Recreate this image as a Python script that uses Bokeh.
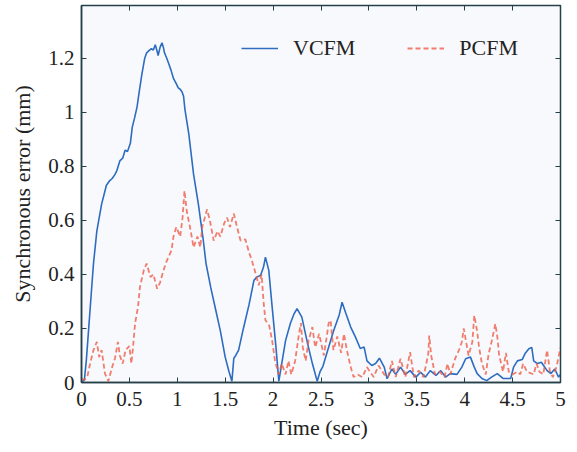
from bokeh.plotting import figure
from bokeh.models import Range1d, FixedTicker, LinearAxis, Legend, LegendItem, CustomJSTickFormatter
from bokeh.embed import file_html
from bokeh.resources import INLINE

vcfm_t = [0.0, 0.03, 0.05, 0.073, 0.1, 0.125, 0.16, 0.21, 0.26, 0.29, 0.32, 0.35, 0.37, 0.40, 0.43, 0.456,
          0.48, 0.51, 0.53, 0.555, 0.58, 0.60, 0.63, 0.66, 0.68, 0.71, 0.73, 0.75, 0.77, 0.79, 0.80, 0.82,
          0.84, 0.855, 0.866, 0.89, 0.91, 0.935, 0.96, 0.99, 1.01, 1.03, 1.05, 1.065, 1.08, 1.12, 1.17, 1.22,
          1.27, 1.30, 1.35, 1.40, 1.45, 1.50, 1.54, 1.57, 1.59, 1.61, 1.64, 1.69, 1.75, 1.80, 1.83, 1.87,
          1.90, 1.92, 1.955, 1.99, 2.03, 2.06, 2.095, 2.13, 2.18, 2.22, 2.25, 2.30, 2.36, 2.41, 2.46, 2.49,
          2.52, 2.56, 2.63, 2.69, 2.72, 2.76, 2.81, 2.86, 2.91, 2.95, 2.98, 3.03, 3.07, 3.11, 3.16, 3.19,
          3.24, 3.28, 3.33, 3.38, 3.43, 3.49, 3.54, 3.59, 3.64, 3.70, 3.75, 3.80, 3.85, 3.92, 3.97, 4.01,
          4.06, 4.10, 4.13, 4.18, 4.23, 4.28, 4.34, 4.40, 4.48, 4.51, 4.55, 4.60, 4.63, 4.67, 4.70, 4.72,
          4.76, 4.80, 4.86, 4.90, 4.94, 4.98, 5.0]
vcfm_v = [0.0, 0.01, 0.08, 0.19, 0.32, 0.44, 0.56, 0.66, 0.73, 0.745, 0.755, 0.77, 0.785, 0.82, 0.83, 0.86,
          0.855, 0.885, 0.945, 0.98, 1.02, 1.07, 1.14, 1.2, 1.22, 1.23, 1.235, 1.23, 1.25, 1.225, 1.21, 1.24,
          1.257, 1.24, 1.22, 1.2, 1.18, 1.155, 1.125, 1.105, 1.09, 1.085, 1.075, 1.06, 1.01, 0.92, 0.77, 0.66,
          0.53, 0.44, 0.35, 0.27, 0.19, 0.094, 0.04, 0.005, 0.09, 0.1, 0.12, 0.2, 0.29, 0.378, 0.39, 0.397,
          0.427, 0.464, 0.415, 0.28, 0.13, 0.005, 0.08, 0.155, 0.218, 0.255, 0.273, 0.242, 0.144, 0.07, 0.005, 0.04,
          0.06, 0.107, 0.19, 0.25, 0.297, 0.255, 0.205, 0.168, 0.126, 0.131, 0.08, 0.063, 0.07, 0.09, 0.057, 0.014,
          0.05, 0.03, 0.057, 0.03, 0.044, 0.02, 0.038, 0.02, 0.044, 0.026, 0.044, 0.02, 0.033, 0.03, 0.057, 0.088,
          0.094, 0.057, 0.033, 0.015, 0.007, 0.02, 0.033, 0.015, 0.015, 0.057, 0.08, 0.085, 0.107, 0.125, 0.13, 0.08,
          0.07, 0.075, 0.044, 0.033, 0.05, 0.02, 0.03]

pcfm_t = [0.0, 0.03, 0.06, 0.09, 0.125, 0.16, 0.185, 0.21, 0.245, 0.28, 0.32, 0.35, 0.38, 0.40, 0.43, 0.46,
          0.50, 0.52, 0.535, 0.56, 0.59, 0.61, 0.65, 0.68, 0.72, 0.75, 0.79, 0.82, 0.856, 0.89, 0.94, 0.96,
          0.99, 1.03, 1.055, 1.075, 1.10, 1.13, 1.17, 1.21, 1.24, 1.26, 1.31, 1.34, 1.38, 1.42, 1.45, 1.49,
          1.52, 1.55, 1.59, 1.62, 1.66, 1.71, 1.75, 1.78, 1.82, 1.85, 1.88, 1.90, 1.92, 1.96, 1.99, 2.02,
          2.06, 2.09, 2.13, 2.16, 2.19, 2.23, 2.27, 2.29, 2.31, 2.34, 2.37, 2.41, 2.44, 2.48, 2.53, 2.56,
          2.58, 2.60, 2.63, 2.67, 2.71, 2.74, 2.77, 2.81, 2.84, 2.88, 2.93, 2.98, 3.01, 3.05, 3.10, 3.16,
          3.20, 3.24, 3.28, 3.33, 3.38, 3.43, 3.47, 3.52, 3.57, 3.62, 3.63, 3.65, 3.69, 3.74, 3.79, 3.82,
          3.85, 3.90, 3.94, 3.97, 3.99, 4.02, 4.04, 4.08, 4.10, 4.13, 4.15, 4.18, 4.22, 4.25, 4.28, 4.32,
          4.34, 4.36, 4.40, 4.43, 4.46, 4.50, 4.55, 4.58, 4.61, 4.65, 4.72, 4.75, 4.78, 4.82, 4.86, 4.89,
          4.92, 4.96, 5.0]
pcfm_v = [0.014, 0.01, 0.02, 0.07, 0.12, 0.15, 0.094, 0.12, 0.033, 0.005, 0.057, 0.09, 0.15, 0.1, 0.07, 0.12,
          0.135, 0.07, 0.12, 0.22, 0.28, 0.353, 0.415, 0.44, 0.39, 0.4, 0.347, 0.37, 0.415, 0.45, 0.49, 0.54,
          0.575, 0.54, 0.61, 0.71, 0.63, 0.58, 0.5, 0.54, 0.5, 0.575, 0.64, 0.6, 0.525, 0.56, 0.54, 0.59,
          0.61, 0.575, 0.625, 0.58, 0.525, 0.53, 0.48, 0.45, 0.4, 0.36, 0.4, 0.3, 0.23, 0.21, 0.155, 0.08,
          0.03, 0.07, 0.03, 0.08, 0.03, 0.08, 0.18, 0.22, 0.13, 0.08, 0.155, 0.205, 0.13, 0.18, 0.1, 0.17,
          0.22, 0.23, 0.12, 0.17, 0.11, 0.18, 0.12, 0.057, 0.02, 0.03, 0.02, 0.057, 0.04, 0.02, 0.063, 0.03,
          0.02, 0.08, 0.02, 0.088, 0.02, 0.112, 0.02, 0.044, 0.02, 0.106, 0.174, 0.1, 0.03, 0.04, 0.02, 0.07,
          0.03, 0.088, 0.12, 0.15, 0.2, 0.14, 0.1, 0.15, 0.248, 0.19, 0.13, 0.07, 0.03, 0.106, 0.15, 0.217,
          0.17, 0.1, 0.04, 0.11, 0.04, 0.03, 0.04, 0.03, 0.07, 0.04, 0.03, 0.07, 0.04, 0.03, 0.12, 0.04,
          0.02, 0.06, 0.13]

x_ticks = [0, 0.5, 1, 1.5, 2, 2.5, 3, 3.5, 4, 4.5, 5]
x_tick_labels = ["0", "0.5", "1", "1.5", "2", "2.5", "3", "3.5", "4", "4.5", "5"]
y_ticks = [0, 0.2, 0.4, 0.6, 0.8, 1.0, 1.2]
y_tick_labels = ["0", "0.2", "0.4", "0.6", "0.8", "1", "1.2"]

FONT = "Liberation Serif"
AX = "#24404a"
TXT = "#222222"

LOOKUP = """
let best = 0;
for (let i = 0; i < tvals.length; i++) {
  if (Math.abs(tvals[i] - tick) < Math.abs(tvals[best] - tick)) { best = i; }
}
return tlabels[best];
"""

p = figure(width=575, height=450, output_backend="svg", toolbar_location=None,
           x_range=Range1d(0, 5), y_range=Range1d(0, 1.395),
           min_border_left=81, min_border_right=15, min_border_top=5, min_border_bottom=68)
p.background_fill_color = "#f8f9fd"
p.border_fill_color = "white"
p.outline_line_color = AX
p.outline_line_width = 1.5
p.grid.visible = False

p.xaxis.ticker = FixedTicker(ticks=x_ticks)
p.xaxis.formatter = CustomJSTickFormatter(args=dict(tvals=x_ticks, tlabels=x_tick_labels), code=LOOKUP)
p.yaxis.ticker = FixedTicker(ticks=y_ticks)
p.yaxis.formatter = CustomJSTickFormatter(args=dict(tvals=y_ticks, tlabels=y_tick_labels), code=LOOKUP)

for ax in list(p.xaxis) + list(p.yaxis):
    ax.axis_line_color = AX
    ax.axis_line_width = 1.5
    ax.major_tick_line_color = AX
    ax.major_tick_in = 5
    ax.major_tick_out = 0
    ax.minor_tick_line_color = None
    ax.major_label_text_font = FONT
    ax.major_label_text_font_size = "21px"
    ax.major_label_text_color = TXT
    ax.axis_label_text_font = FONT
    ax.axis_label_text_font_size = "22px"
    ax.axis_label_text_font_style = "normal"
    ax.axis_label_text_color = TXT

p.xaxis[0].axis_label = "Time (sec)"
p.yaxis[0].axis_label = "Synchronous error (mm)"
p.xaxis[0].major_label_standoff = 9
p.yaxis[0].major_label_standoff = 7
p.xaxis[0].axis_label_standoff = 6
p.yaxis[0].axis_label_standoff = 10

blank = "return '';"
top = LinearAxis(ticker=FixedTicker(ticks=x_ticks), formatter=CustomJSTickFormatter(code=blank),
                 major_tick_in=5, major_tick_out=0, major_label_standoff=0,
                 axis_line_color=AX, major_tick_line_color=AX, minor_tick_line_color=None)
right = LinearAxis(ticker=FixedTicker(ticks=y_ticks), formatter=CustomJSTickFormatter(code=blank),
                   major_tick_in=5, major_tick_out=0, major_label_standoff=0,
                   axis_line_color=AX, major_tick_line_color=AX, minor_tick_line_color=None)
p.add_layout(top, "above")
p.add_layout(right, "right")

r1 = p.line(vcfm_t, vcfm_v, line_color="#2d6cc0", line_width=1.6)
r2 = p.line(pcfm_t, pcfm_v, line_color="#ef5e48", line_width=1.8, line_alpha=0.8, line_dash="5 3")

legend = Legend(items=[LegendItem(label="VCFM", renderers=[r1]), LegendItem(label="PCFM", renderers=[r2])],
                orientation="horizontal", location=(160, 321), padding=0, spacing=52,
                glyph_width=37, label_standoff=15, border_line_color=None,
                background_fill_alpha=0, label_text_font=FONT, label_text_font_size="22px",
                label_text_color=TXT)
p.add_layout(legend)

open("out.html", "w").write(file_html(p, INLINE))
